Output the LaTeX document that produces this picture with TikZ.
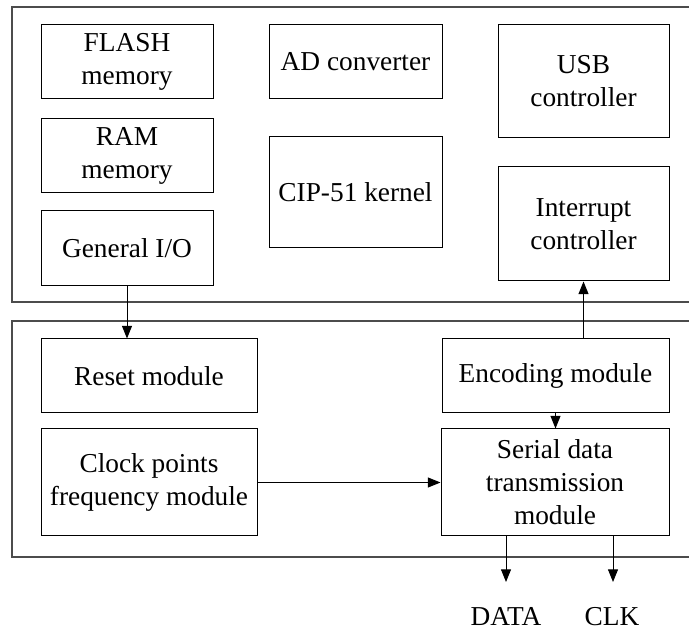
\documentclass[tikz,border=0pt]{standalone}
\usepackage{fontspec}
\setmainfont{Liberation Serif}
\usetikzlibrary{arrows.meta}

\tikzset{
  block/.style={draw,line width=0.75pt,align=center,inner sep=0pt,
    font=\fontsize{20.5}{24.75}\selectfont},
  label/.style={inner sep=0pt,font=\fontsize{20.5}{24.75}\selectfont},
  frame/.style={draw=black!70,line width=0.9pt},
  flow/.style={-{Triangle[length=9.5pt,width=7.5pt]},line width=0.75pt}
}

\begin{document}
\begin{tikzpicture}[x=0.75pt,y=-0.75pt]
\useasboundingbox (0,0) rectangle (689,630);

% the two frames, open at the right
\draw[frame] (689,7) -- (12,7) -- (12,302) -- (689,302);
\draw[frame] (689,321) -- (12,321) -- (12,557) -- (689,557);

% the blocks: name/x/y/width/height/text
\foreach \n/\x/\y/\w/\h/\texto in {
  flash/127/62/172/74/{FLASH\\memory},
  ram/127/156/172/74/{RAM\\memory},
  gio/127/248.5/172/75/{General I/O},
  adc/355.5/62/173/74/{AD converter},
  cip/355.5/192.5/173/111/{CIP-51 kernel},
  usb/583.5/81.5/171/113/{USB\\controller},
  intc/583.5/224/171/114/{Interrupt\\controller},
  reset/149/376/216/74/{Reset module},
  clock/149/482.5/216/107/{Clock points\\frequency module},
  enc/555.5/376/227/74/{Encoding module},
  serial/555/482.5/228/107/{Serial data\\transmission\\module}}
{
  \node[block,minimum width=\w*0.75pt,minimum height=\h*0.75pt] (\n) at (\x,\y) {\texto};
}

% the outputs
\coordinate (dataend) at (506,582);
\coordinate (clkend) at (613,582);
\node[label] (data) at (506,617) {DATA};
\node[label] (clk) at (612,617) {CLK};

% connections
\draw[flow] (gio.south) -- (gio.south |- reset.north);
\draw[flow] (enc.north -| intc.south) -- (intc.south);
\draw[flow] (enc.south) -- (enc.south |- serial.north);
\draw[flow] (clock.east) -- (clock.east -| serial.west);
\draw[flow] (serial.south -| dataend) -- (dataend);
\draw[flow] (serial.south -| clkend) -- (clkend);
\end{tikzpicture}
\end{document}
